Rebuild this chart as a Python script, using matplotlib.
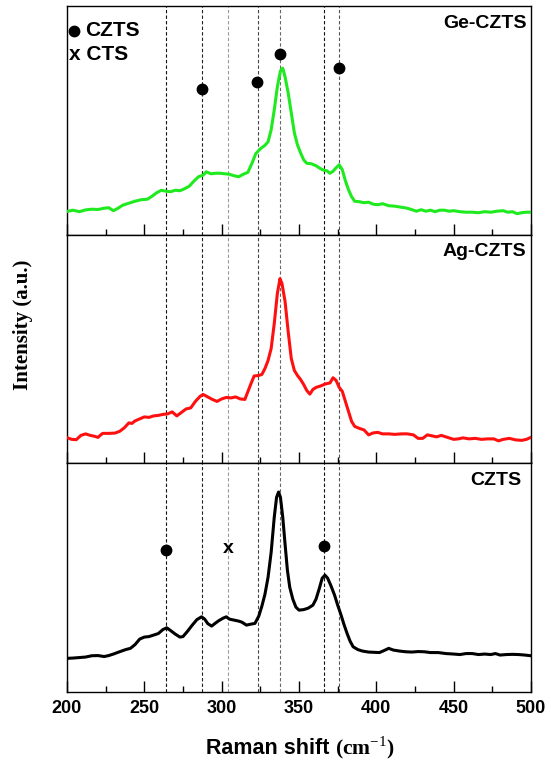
import matplotlib
matplotlib.use("Agg")
import matplotlib.pyplot as plt
from matplotlib.ticker import MultipleLocator

plt.rcParams["mathtext.fontset"] = "custom"
plt.rcParams["mathtext.rm"] = "Liberation Serif"
plt.rcParams["mathtext.bf"] = "Liberation Serif:bold"

# ---------------- data ----------------
ge_x = [200, 204, 208, 212, 216, 220, 224, 227, 230, 233, 236, 240, 244, 248, 252, 255, 258, 261, 264, 267,
        270, 273, 276, 279, 282, 285, 288, 290, 293, 296, 299, 302, 305, 308, 311, 314, 317, 320, 322, 325,
        328, 330, 332, 334, 336, 338, 339.5, 341, 343, 345, 347, 349, 351, 353, 355, 358, 361, 364, 366, 368,
        370, 372, 374, 376, 378, 380, 382, 384, 386, 389, 392, 395, 398, 401, 404, 408, 412, 416, 420, 423,
        426, 429, 432, 435, 438, 441, 444, 447, 450, 454, 458, 462, 466, 470, 474, 478, 482, 485, 488, 491,
        494, 497, 500]
ge_y = [23.3, 24.5, 23.0, 24.8, 25.5, 25.2, 26.5, 27.0, 24.0, 26.5, 29.5, 31.5, 33.5, 35.0, 35.5, 38.5, 42.0, 44.5, 43.5, 43.0,
        44.5, 44.0, 46.0, 48.5, 53.5, 58.0, 59.5, 63.0, 61.0, 61.5, 61.5, 61.0, 60.5, 59.0, 58.0, 60.5, 62.5, 73.0, 81.0, 86.0,
        89.5, 93.0, 105, 125, 148, 164, 166.7, 158, 142, 122, 102, 90, 82, 75, 71.5, 71.0, 69.0, 66.0, 64.5, 64.0,
        61.5, 63.5, 67.0, 70.0, 65.0, 54.0, 45.0, 38.0, 33.5, 33.0, 32.0, 32.5, 30.5, 30.0, 31.0, 29.0, 28.5, 27.5, 26.5, 25.0,
        23.5, 25.0, 23.5, 24.5, 23.0, 24.5, 24.5, 23.5, 24.0, 23.0, 22.5, 22.5, 22.0, 23.0, 22.5, 23.5, 24.0, 22.5, 23.0, 21.0,
        22.0, 22.5, 22.5]

ag_x = [200, 203, 206, 209, 212, 215, 218, 220, 223, 227, 231, 234, 237, 240, 242, 244, 247, 250, 253, 256,
        259, 262, 265, 268, 271, 274, 277, 280, 283, 286, 288, 291, 294, 297, 300, 303, 306, 309, 312, 315,
        317, 319, 321, 324, 326, 328, 330, 332, 334, 336, 337.7, 339, 341, 343, 345, 347, 349, 351, 353, 355,
        357, 359, 361, 364, 367, 370, 372, 374, 376, 378, 380, 382, 384, 386, 389, 392, 395, 398, 401, 404,
        408, 412, 416, 420, 424, 427, 430, 433, 436, 439, 442, 446, 450, 453, 456, 460, 464, 468, 472, 476,
        479, 482, 486, 490, 494, 497, 500]
ag_y = [25.7, 24.0, 23.7, 28.0, 29.5, 28.0, 27.0, 26.0, 30.0, 30.0, 30.3, 32.0, 35.5, 40.5, 40.0, 42.5, 44.5, 46.5, 46.0, 47.5,
        48.0, 49.0, 49.5, 51.5, 47.5, 51.0, 54.5, 55.5, 62.0, 67.0, 69.0, 66.5, 64.0, 62.0, 64.5, 66.0, 65.5, 66.5, 64.5, 64.0,
        72.0, 80.0, 87.5, 88.0, 89.0, 95.0, 103, 115, 140, 170, 185, 180, 162, 132, 105, 93, 88, 84, 79, 73,
        69.3, 74.0, 76.0, 77.5, 79.5, 80.5, 85.7, 83.0, 76.0, 72.0, 62.0, 52.0, 42.0, 37.0, 35.0, 33.5, 28.5, 30.5, 31.0, 29.5,
        29.5, 29.0, 29.5, 29.5, 28.5, 25.0, 25.0, 28.5, 27.5, 26.5, 28.0, 26.0, 24.0, 24.5, 25.5, 24.5, 25.0, 24.0, 24.5, 24.5,
        22.5, 24.0, 25.0, 23.5, 23.0, 24.0, 26.0]

cz_x = [200, 204, 208, 212, 216, 220, 224, 227, 230, 234, 238, 241, 244, 247, 250, 253, 256, 259, 262, 264.5,
        267, 270, 273, 275, 278, 281, 284, 287, 289, 291, 293.5, 296, 298, 301, 303, 305, 308, 311, 313, 316,
        319, 321.5, 324, 326, 328, 330, 332, 334, 335.5, 336.8, 338, 339.5, 341, 342.5, 344, 346, 348, 350, 353, 356,
        359, 361, 363, 365, 366.8, 368.5, 370.5, 373, 375, 377, 379, 381, 383, 385, 388, 391, 395, 399, 402, 405,
        408, 411, 415, 419, 423, 427, 431, 435, 440, 445, 450, 454, 458, 462, 466, 470, 474, 477, 480, 484,
        488, 492, 496, 500]
cz_y = [33.7, 34.0, 34.5, 35.0, 36.3, 36.5, 35.5, 36.5, 38.0, 40.3, 42.5, 43.7, 47.5, 53.0, 55.0, 55.5, 57.0, 58.5, 62.5, 64.3,
        61.5, 58.0, 55.0, 55.5, 61.0, 67.0, 72.5, 75.3, 73.0, 68.5, 66.0, 69.0, 71.3, 74.0, 75.3, 73.0, 72.0, 71.0, 70.0, 67.0,
        68.0, 68.7, 76.0, 86.0, 98.0, 115, 140, 175, 195, 200.3, 195, 175, 148, 122, 105, 93, 85, 82, 82.5, 84.0,
        87.0, 93, 103, 114, 117, 114, 107, 97, 87, 78, 68, 59, 51, 45.3, 42.5, 41.0, 40.0, 39.7, 39.5, 41.5,
        43.7, 42.0, 41.0, 40.3, 40.0, 40.5, 40.3, 39.5, 39.5, 38.5, 38.0, 37.5, 38.5, 38.5, 37.5, 38.0, 37.5, 38.5, 37.0, 37.5,
        37.7, 37.5, 37.0, 36.3]

panel_labels = ["Ge-CZTS", "Ag-CZTS", "CZTS"]
colors = ["#1FEA1F", "#FF1010", "#000000"]

ref_lines = [264, 287.5, 304, 323.5, 337.5, 366, 376]
ref_colors = ["#111111", "#222222", "#999999", "#444444", "#666666", "#111111", "#555555"]

ge_dot_x = [287.5, 323, 337.5, 376]
ge_dot_y = [146, 153, 181, 167]
cz_dot_x = [264, 366]
cz_dot_y = [142.7, 146.3]
cz_cts_x = [304]
cz_cts_y = [143.7]

xticks = [200, 250, 300, 350, 400, 450, 500]

# ---------------- figure ----------------
fig = plt.figure(figsize=(5.51, 7.62), dpi=100)
left, right = 67 / 551, 531 / 551
bottom, top = 1 - 692 / 762, 1 - 6 / 762
ph = (top - bottom) / 3
axes = [fig.add_axes([left, bottom + (2 - i) * ph, right - left, ph]) for i in range(3)]

series = [(ge_x, ge_y), (ag_x, ag_y), (cz_x, cz_y)]
sans = ["Liberation Sans", "DejaVu Sans"]
serif = ["Liberation Serif", "DejaVu Serif"]
label_pos = [(0.991, 0.924), (0.990, 0.927), (0.980, 0.926)]

for i, ax in enumerate(axes):
    for xl, c in zip(ref_lines, ref_colors):
        ax.axvline(xl, color=c, lw=0.8, ls=(0, (3, 2)), zorder=1)
    x, y = series[i]
    ax.plot(x, y, color=colors[i], lw=2.2, zorder=3)
    ax.set_xlim(200, 500)
    ax.set_ylim(0, 229)
    ax.set_yticks([])
    ax.xaxis.set_major_locator(MultipleLocator(50))
    ax.xaxis.set_minor_locator(MultipleLocator(25))
    ax.tick_params(axis="x", which="major", direction="in", length=8, width=1.0, top=False)
    ax.tick_params(axis="x", which="minor", direction="in", length=4.5, width=1.0, top=False)
    for s in ax.spines.values():
        s.set_linewidth(1.0)
    if i < 2:
        ax.tick_params(axis="x", labelbottom=False)
    else:
        ax.set_xticks(xticks)
        ax.set_xticklabels([str(t) for t in xticks], fontsize=13, fontweight="bold", family=sans)
        ax.tick_params(axis="x", pad=6)
    lx, ly = label_pos[i]
    ax.text(lx, ly, panel_labels[i], transform=ax.transAxes, ha="right", va="center",
            fontsize=14, fontweight="bold", family=sans)

# markers
axes[0].plot(ge_dot_x, ge_dot_y, "o", color="black", ms=7.5, zorder=4)
axes[2].plot(cz_dot_x, cz_dot_y, "o", color="black", ms=7.5, zorder=4)
for xx, yy in zip(cz_cts_x, cz_cts_y):
    axes[2].text(xx, yy, "x", ha="center", va="center", fontsize=14, fontweight="bold", family=sans)

# legend-like annotation in the top panel
axes[0].plot([0.015], [0.891], "o", color="black", ms=7.5, transform=axes[0].transAxes, clip_on=False)
axes[0].text(0.040, 0.891, "CZTS", transform=axes[0].transAxes, ha="left", va="center",
             fontsize=15, fontweight="bold", family=sans)
axes[0].text(0.004, 0.786, "x CTS", transform=axes[0].transAxes, ha="left", va="center",
             fontsize=15, fontweight="bold", family=sans)

# axis labels
fig.text(335 / 551, 1 - 748 / 762, "Raman shift ", ha="right", va="center", fontsize=15.5,
         fontweight="bold", family=sans)
fig.text(335 / 551, 1 - 748 / 762, r"(cm$^{-1}$)", ha="left", va="center", fontsize=15.5,
         fontweight="bold", family=serif)
fig.text(23 / 551, 1 - 325 / 762, "Intensity (a.u.)", rotation=90, ha="center", va="center",
         fontsize=15, fontweight="bold", family=serif)

fig.savefig("out.png", dpi=100)
